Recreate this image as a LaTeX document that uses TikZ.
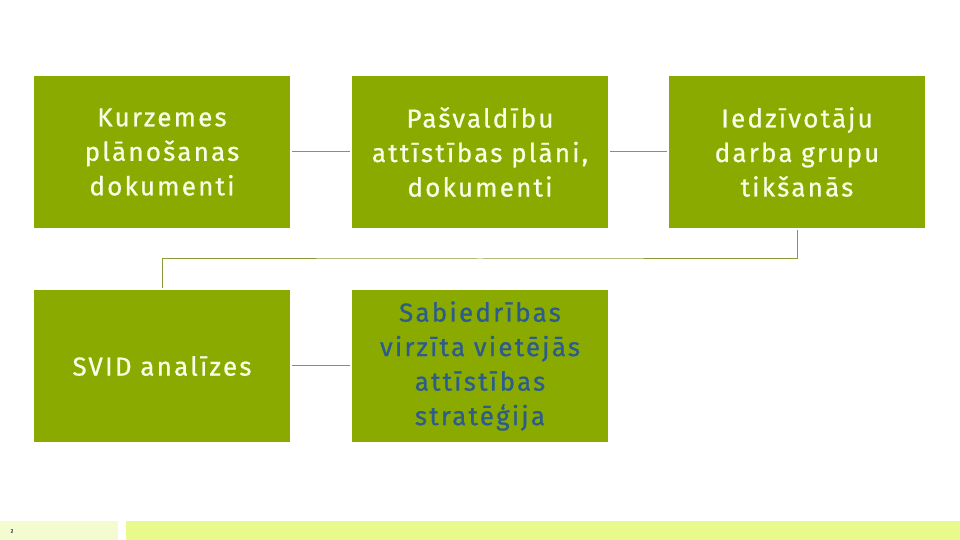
\documentclass[tikz,border=0pt]{standalone}
\usepackage{fontspec}
\setmainfont[LetterSpace=8.5,Ligatures=NoCommon,FakeBold=0.7]{Fira Sans}
\definecolor{boxgreen}{HTML}{8AAA00}
\definecolor{boxtext}{HTML}{F8FFE6}
\definecolor{bluetext}{HTML}{2B5C8C}
\definecolor{linecol}{HTML}{8A9A3A}
\definecolor{barlight}{HTML}{F3FBD0}
\definecolor{barmain}{HTML}{E8FA8C}
\begin{document}
\begin{tikzpicture}[x=1pt,y=1pt,
  box/.style={fill=boxgreen, draw=none, minimum width=256pt, minimum height=152pt, inner sep=0pt,
    text width=254pt, align=center, font=\fontsize{26}{34.5}\selectfont, text=boxtext},
  conn/.style={draw=linecol, line width=1pt, shorten <=2pt, shorten >=2pt}]
\useasboundingbox (0,0) rectangle (960,540);
\fill[white] (0,0) rectangle (960,540);
\node[box] (b1) at (162,388) {Kurzemes\\plānošanas\\dokumenti};
\node[box] (b2) at (480,388) {Pašvaldību\\attīstības plāni,\\dokumenti};
\node[box] (b3) at (797,388) {Iedzīvotāju\\darba grupu\\tikšanās};
\node[box] (b4) at (162,174) {SVID analīzes};
\node[box, text=bluetext] (b5) at (480,174) {Sabiedrības\\virzīta vietējās\\attīstības\\stratēģija};
\coordinate (m) at (480,281);
\draw[conn] (b1) -- (b2);
\draw[conn] (b2) -- (b3);
\draw[conn] (b4) -- (b5);
\draw[conn] (b3.south) |- (m) -| (b4.north);
\fill[barlight] (0,0) rectangle (118,19);
\fill[barmain] (126,0) rectangle (960,19);
\node[font=\fontsize{5}{6}\selectfont, text=black!70] (pg) at (12,9) {2};
\end{tikzpicture}
\end{document}
